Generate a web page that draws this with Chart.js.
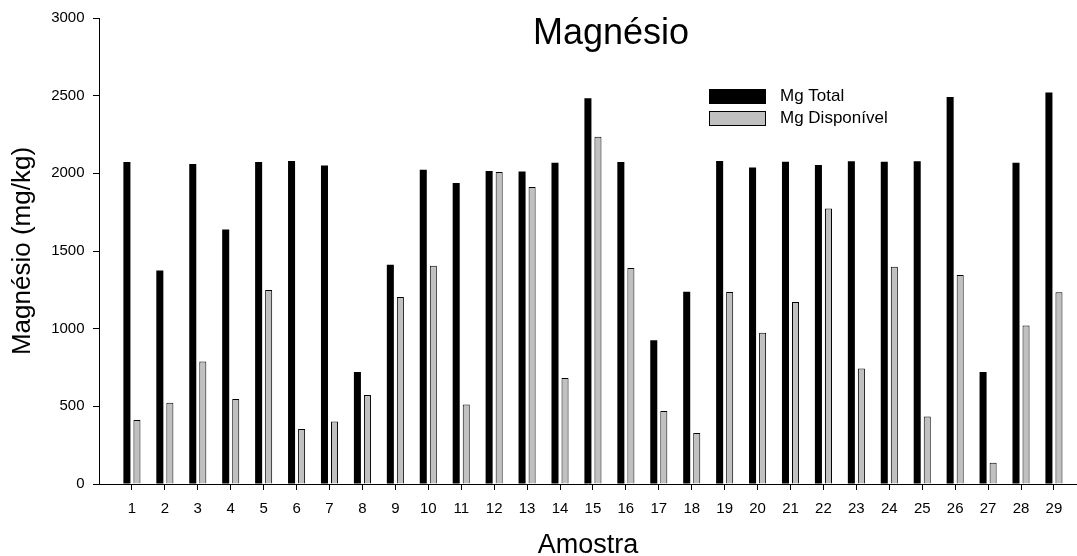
<!DOCTYPE html>
<html>
<head>
<meta charset="utf-8">
<script src="https://cdn.jsdelivr.net/npm/chart.js@4.4.1/dist/chart.umd.min.js"></script>
<style>
  html, body { margin: 0; padding: 0; background: #fff; }
  canvas { display: block; }
</style>
</head>
<body>
<canvas id="chart" width="1077" height="556"></canvas>
<script>
// Amostras (samples) along the x axis
const amostras = [1, 2, 3, 4, 5, 6, 7, 8, 9, 10, 11, 12, 13, 14, 15, 16, 17, 18, 19, 20, 21, 22, 23, 24, 25, 26, 27, 28, 29];

// Magnésio total (mg/kg)
const mgTotal = [2073, 1375, 2060, 1639, 2073, 2079, 2051, 721, 1412, 2023,
                 1938, 2015, 2011, 2068, 2483, 2073, 925, 1238, 2079, 2038,
                 2075, 2054, 2077, 2075, 2077, 2491, 721, 2068, 2521];

// Magnésio disponível (mg/kg)
const mgDisponivel = [412, 523, 789, 547, 1249, 354, 403, 573, 1204, 1405,
                      511, 2009, 1912, 682, 2236, 1391, 470, 328, 1236, 974,
                      1172, 1774, 744, 1399, 435, 1345, 137, 1021, 1234];

const yTicks = [0, 500, 1000, 1500, 2000, 2500, 3000];

const seriesNames = ['Mg Total', 'Mg Disponível'];
const chartTitle = 'Magnésio';
const xTitle = 'Amostra';
const yTitle = 'Magnésio (mg/kg)';

const FONT = '"Liberation Sans", Arial, Helvetica, sans-serif';

// Title and boxed legend drawn over the plot area
const titleAndLegend = {
  id: 'titleAndLegend',
  afterDraw(chart) {
    const ctx = chart.ctx;
    ctx.save();
    ctx.fillStyle = '#000';
    ctx.font = '36px ' + FONT;
    ctx.textAlign = 'center';
    ctx.textBaseline = 'middle';
    ctx.fillText(chartTitle, 611, 34);

    ctx.font = '17px ' + FONT;
    ctx.textAlign = 'left';
    chart.data.datasets.forEach((ds, i) => {
      const top = 89 + i * 22;
      ctx.fillStyle = ds.backgroundColor;
      ctx.fillRect(709.5, top + 0.5, 56, 14);
      ctx.strokeStyle = '#000';
      ctx.lineWidth = 1;
      ctx.strokeRect(709.5, top + 0.5, 56, 14);
      ctx.fillStyle = '#000';
      ctx.fillText(ds.label, 780, top + 7.5);
    });
    ctx.restore();
  }
};

new Chart(document.getElementById('chart'), {
  type: 'bar',
  data: {
    labels: amostras,
    datasets: [
      {
        label: seriesNames[0],
        data: mgTotal,
        backgroundColor: '#000000',
        borderColor: '#000000',
        borderWidth: 0,
        categoryPercentage: 0.61,
        barPercentage: 0.7
      },
      {
        label: seriesNames[1],
        data: mgDisponivel,
        backgroundColor: '#c0c0c0',
        borderColor: '#000000',
        borderWidth: 1,
        categoryPercentage: 0.61,
        barPercentage: 0.7
      }
    ]
  },
  options: {
    responsive: false,
    animation: false,
    layout: { padding: { top: 18, right: 0, bottom: 0, left: 0 } },
    plugins: {
      legend: { display: false },
      title: { display: false },
      tooltip: { enabled: false }
    },
    scales: {
      x: {
        type: 'linear',
        min: 0,
        max: 29.7,
        offset: false,
        afterBuildTicks: (scale) => { scale.ticks = amostras.map(v => ({ value: v })); },
        afterFit: (scale) => { scale.height = 72; },
        ticks: {
          autoSkip: false,
          maxRotation: 0,
          color: '#000',
          padding: 10,
          font: { family: FONT, size: 15 },
          callback: (v) => String(v)
        },
        grid: {
          display: true,
          offset: false,
          drawOnChartArea: false,
          drawTicks: true,
          tickLength: 6,
          color: '#000',
          lineWidth: 1
        },
        border: { display: true, color: '#000', width: 1 },
        title: {
          display: true,
          text: xTitle,
          color: '#000',
          font: { family: FONT, size: 27, lineHeight: 1 },
          padding: { top: 0, bottom: -3 }
        }
      },
      y: {
        min: 0,
        max: 3000,
        afterBuildTicks: (scale) => { scale.ticks = yTicks.map(v => ({ value: v })); },
        afterFit: (scale) => { scale.width = 99; },
        ticks: {
          color: '#000',
          padding: 8.5,
          font: { family: FONT, size: 15 },
          callback: (v) => String(v)
        },
        grid: {
          display: true,
          drawOnChartArea: false,
          drawTicks: true,
          tickLength: 6,
          color: '#000',
          lineWidth: 1
        },
        border: { display: true, color: '#000', width: 1 },
        title: {
          display: true,
          text: yTitle,
          color: '#000',
          font: { family: FONT, size: 26, lineHeight: 1.2 },
          padding: { top: 7, bottom: 0 }
        }
      }
    }
  },
  plugins: [titleAndLegend]
});
</script>
</body>
</html>
